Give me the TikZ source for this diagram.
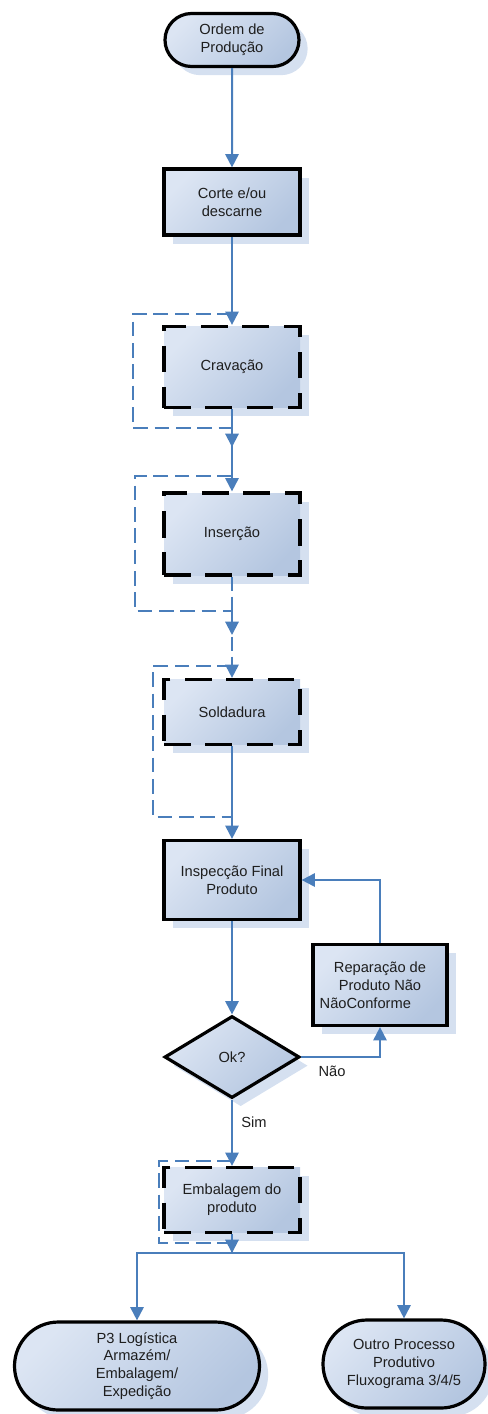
\documentclass[tikz,border=0pt]{standalone}
\usepackage{fontspec}
\setmainfont{Liberation Sans}
\usetikzlibrary{shapes.geometric,shapes.misc,shadows,arrows.meta}

\definecolor{flowblue}{HTML}{4A7EBB}
\definecolor{fillhi}{HTML}{DCE5F3}
\definecolor{filllo}{HTML}{B4C6E0}
\definecolor{shadowblue}{HTML}{D5E0F0}
\definecolor{txt}{HTML}{1E1E1E}

\tikzset{
  base/.style={draw=black, line width=2.4pt,
    top color=fillhi, bottom color=filllo, shading angle=45,
    text=txt, font=\fontsize{11pt}{13.4pt}\selectfont, align=center, inner sep=0pt,
    drop shadow={shadow xshift=6.5pt, shadow yshift=-6.5pt, fill=shadowblue, opacity=1}},
  box/.style={base, rectangle, minimum width=102pt},
  dbox/.style={box, dash pattern=on 20pt off 11pt},
  term/.style={base, rounded rectangle},
  decision/.style={base, diamond},
  flowline/.style={draw=flowblue, line width=1.5pt},
  conn/.style={flowline, -{Triangle[length=10pt,width=10pt]}},
  bypass/.style={flowline, dash pattern=on 11pt off 5pt},
  lbl/.style={text=txt, font=\fontsize{11pt}{13.4pt}\selectfont}
}

\begin{document}
\begin{tikzpicture}[x=0.75pt,y=-0.75pt]
\useasboundingbox (0,0) rectangle (488,1414);

% process steps
\node[term, minimum width=100.5pt, minimum height=39.75pt] (ordem) at (232,40) {Ordem de\\Produção};
\node[box, minimum height=49.5pt] (corte) at (232,202) {Corte e/ou\\descarne};
\node[dbox, minimum height=60.75pt] (crav) at (232,367) {Cravação};
\node[dbox, minimum height=61.5pt] (ins) at (232,534) {Inserção};
\node[dbox, minimum height=48.75pt] (sold) at (232,712) {Soldadura};
\node[box, minimum height=59.25pt] (insp) at (232,880) {Inspecção Final\\Produto};
\node[box, minimum width=100.5pt, minimum height=60.75pt] (rep) at (380,985) {Reparação de\\Produto Não\\NãoConforme\hspace*{22pt}};
\node[decision, minimum width=101.25pt, minimum height=61.5pt] (ok) at (232,1057) {Ok?};
\node[dbox, minimum height=48.75pt] (emb) at (232,1200) {Embalagem do\\produto};
\node[term, minimum width=183.75pt, minimum height=66pt] (p3) at (137,1366) {P3 Logística\\Armazém/\\Embalagem/\\Expedição};
\node[term, minimum width=121.5pt, minimum height=66pt] (outro) at (404,1364) {Outro Processo\\Produtivo\\Fluxograma 3/4/5};

% bypass points of the optional steps
\coordinate (b1in) at (232,314);  \coordinate (b1c) at (133,428);  \coordinate (b1out) at (232,428);  \coordinate (b1end) at (232,447);
\coordinate (b2in) at (232,476);  \coordinate (b2c) at (135,611);  \coordinate (b2out) at (232,611);  \coordinate (b2end) at (232,635);
\coordinate (b3in) at (232,666);  \coordinate (b3c) at (153,817);  \coordinate (b3out) at (232,817);
\coordinate (b4in) at (232,1161); \coordinate (b4c) at (159,1243); \coordinate (b4out) at (232,1243);
\coordinate (split) at (232,1253);

% bypass loops
\draw[bypass] (b1in) -| (b1c) -- (b1out);
\draw[bypass] (b2in) -| (b2c) -- (b2out);
\draw[bypass] (b3in) -| (b3c) -- (b3out);
\draw[bypass] (b4in) -| (b4c) -- (b4out);
\draw[conn] (b1out) -- (b1end);
\draw[conn] (b2out) -- (b2end);
\draw[conn] (b4out) -- (split);

% main flow
\draw[conn] (ordem) -- (corte);
\draw[conn] (corte) -- (crav);
\draw[conn] (crav) -- (ins);
\draw[conn, dash pattern=on 11pt off 4pt] (ins) -- (sold);
\draw[conn] (sold) -- (insp);
\draw[conn] (insp) -- (ok);
\draw[conn] (ok.east) -| (rep.south);
\draw[conn] (rep.north) |- (insp.east);
\draw[conn] (ok) -- (emb);
\draw[flowline] (emb.south) -- (split);
\draw[conn] (split) -| (p3.north);
\draw[conn] (split) -| (outro.north);

% branch labels
\node[lbl] (nao) at (332,1071) {Não};
\node[lbl] (sim) at (254,1122) {Sim};
\end{tikzpicture}
\end{document}
